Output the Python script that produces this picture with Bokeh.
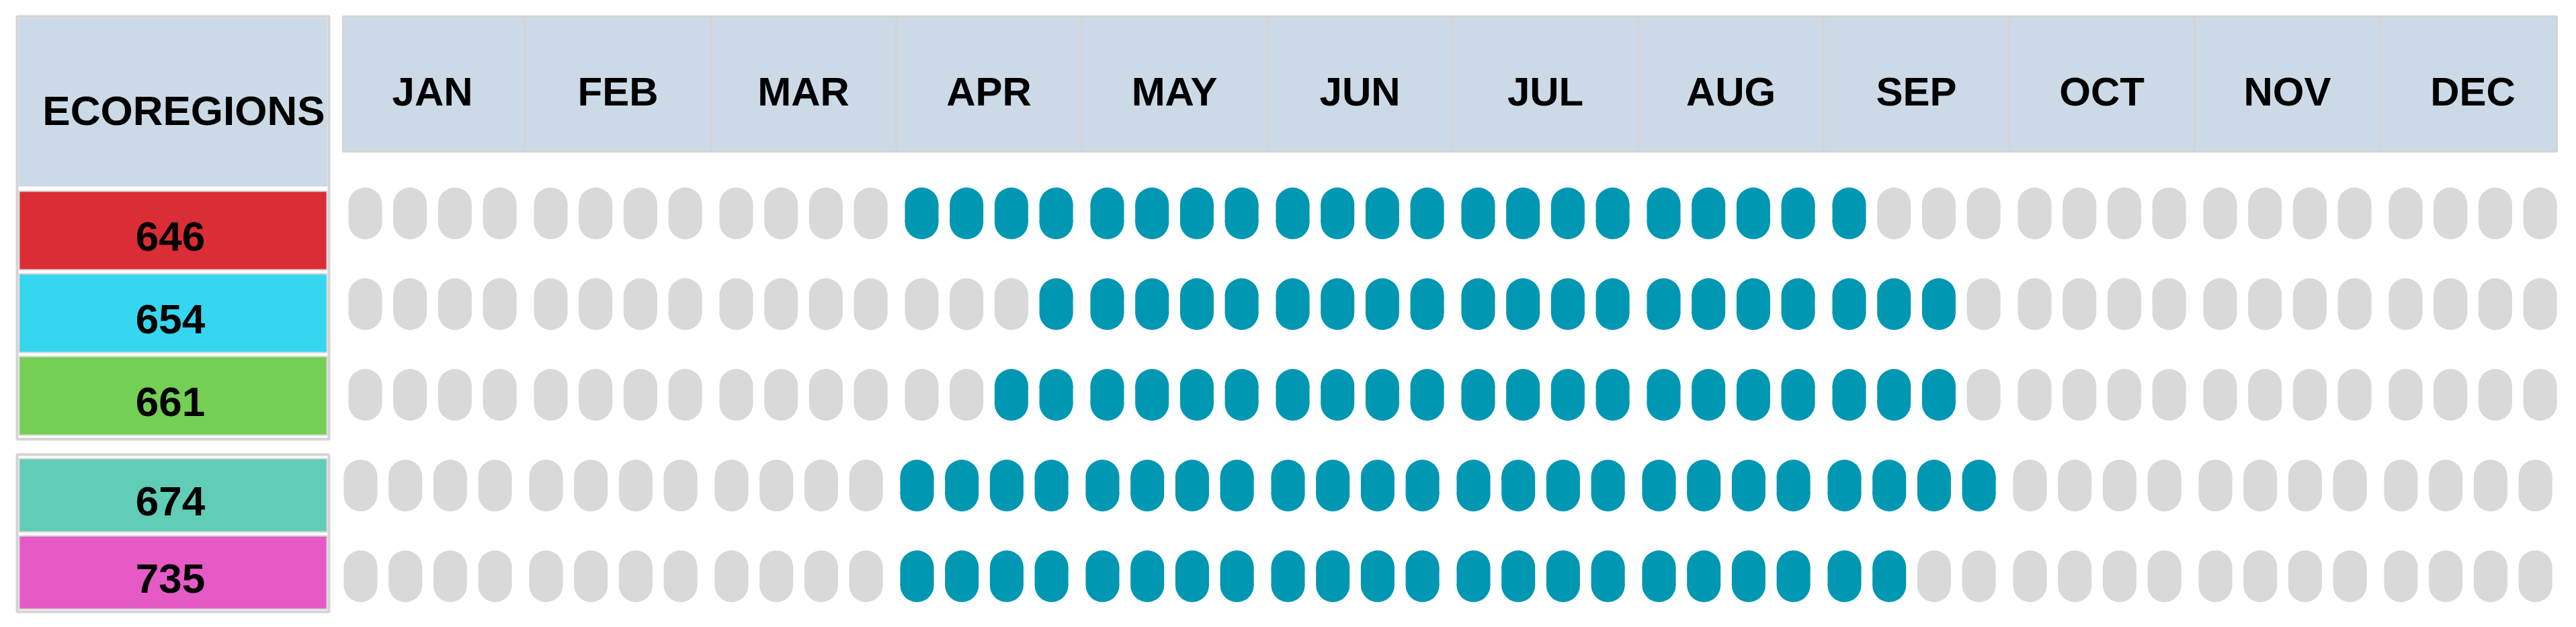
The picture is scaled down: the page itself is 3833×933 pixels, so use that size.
from bokeh.plotting import figure
from bokeh.models import Range1d, ColumnDataSource
from bokeh.embed import file_html
from bokeh.resources import INLINE
from bokeh.core.properties import value

# ---------------- data ----------------
MONTHS = ["JAN", "FEB", "MAR", "APR", "MAY", "JUN",
          "JUL", "AUG", "SEP", "OCT", "NOV", "DEC"]
WEEKS_PER_MONTH = 4
ECOREGIONS = ["646", "654", "661", "674", "735"]
REGION_COLORS = ["#DA2D35", "#35D6EF", "#74D054", "#62CDB6", "#E65AC6"]
REGION_GROUP = [0, 0, 0, 1, 1]

#            JAN        FEB        MAR        APR        MAY        JUN        JUL        AUG        SEP        OCT        NOV        DEC
ACTIVE_646 = [0,0,0,0,  0,0,0,0,  0,0,0,0,  1,1,1,1,  1,1,1,1,  1,1,1,1,  1,1,1,1,  1,1,1,1,  1,0,0,0,  0,0,0,0,  0,0,0,0,  0,0,0,0]
ACTIVE_654 = [0,0,0,0,  0,0,0,0,  0,0,0,0,  0,0,0,1,  1,1,1,1,  1,1,1,1,  1,1,1,1,  1,1,1,1,  1,1,1,0,  0,0,0,0,  0,0,0,0,  0,0,0,0]
ACTIVE_661 = [0,0,0,0,  0,0,0,0,  0,0,0,0,  0,0,1,1,  1,1,1,1,  1,1,1,1,  1,1,1,1,  1,1,1,1,  1,1,1,0,  0,0,0,0,  0,0,0,0,  0,0,0,0]
ACTIVE_674 = [0,0,0,0,  0,0,0,0,  0,0,0,0,  1,1,1,1,  1,1,1,1,  1,1,1,1,  1,1,1,1,  1,1,1,1,  1,1,1,1,  0,0,0,0,  0,0,0,0,  0,0,0,0]
ACTIVE_735 = [0,0,0,0,  0,0,0,0,  0,0,0,0,  1,1,1,1,  1,1,1,1,  1,1,1,1,  1,1,1,1,  1,1,1,1,  1,1,0,0,  0,0,0,0,  0,0,0,0,  0,0,0,0]
ACTIVITY = [ACTIVE_646, ACTIVE_654, ACTIVE_661, ACTIVE_674, ACTIVE_735]

# ---------------- style / layout ----------------
ON_COLOR = "#0097B2"
OFF_COLOR = "#D9D9D9"
HEAD_FILL = "#CBDAE6"
FRAME = "#D4D4D4"
FONT = value("Liberation Sans")

W, H = 3825, 925
PILL_X0, WEEK_PITCH, MONTH_PITCH = 543, 66.7, 276
ROW_Y0, ROW_PITCH = 317, 135
GROUP_XSHIFT = [0, -7]
PILL_W, PILL_H = 50, 77
HEAD_L, HEAD_R, HEAD_T, HEAD_B = 510, 3804, 24, 225
LBL_L, LBL_R = 25, 489
GROUP_BOX = [dict(top=284, pitch=123, h=117, frame_top=24, frame_bot=653),
             dict(top=682, pitch=115, h=109, frame_top=676, frame_bot=910)]

p = figure(width=W, height=H, x_range=Range1d(0, W), y_range=Range1d(H, 0),
           output_backend="svg", toolbar_location=None, min_border=0)
p.axis.visible = False
p.grid.visible = False
p.outline_line_color = None
p.background_fill_color = "white"
p.border_fill_color = "white"

# ---- month header ----
centers = [PILL_X0 + m * MONTH_PITCH + 1.5 * WEEK_PITCH for m in range(len(MONTHS))]
mids = [(PILL_X0 + m * MONTH_PITCH + 3 * WEEK_PITCH + PILL_X0 + (m + 1) * MONTH_PITCH) / 2
        for m in range(len(MONTHS) - 1)]
lefts = [HEAD_L] + mids
rights = mids + [HEAD_R]
p.quad(left=lefts, right=rights, top=[HEAD_T] * 12, bottom=[HEAD_B] * 12,
       fill_color=HEAD_FILL, line_color=FRAME, line_width=3)
p.text(x=centers, y=[136] * 12, text=MONTHS, text_font=FONT, text_font_style="bold",
       text_font_size="60px", text_align="center", text_baseline="middle", text_color="black")

# ---- left label column ----
for g, box in enumerate(GROUP_BOX):
    p.quad(left=[LBL_L], right=[LBL_R], top=[box["frame_top"]], bottom=[box["frame_bot"]],
           fill_color="white", line_color=FRAME, line_width=4)
p.quad(left=[LBL_L + 2], right=[LBL_R - 2], top=[HEAD_T + 2], bottom=[277],
       fill_color=HEAD_FILL, line_color=None)
p.text(x=[(LBL_L + LBL_R) / 2 + 16], y=[164], text=["ECOREGIONS"], text_font=FONT,
       text_font_style="bold", text_font_size="62px", text_align="center",
       text_baseline="middle", text_color="black")

tops, bots, lx, ly = [], [], [], []
count = [0, 0]
for r, grp in enumerate(REGION_GROUP):
    box = GROUP_BOX[grp]
    t = box["top"] + count[grp] * box["pitch"]
    count[grp] += 1
    tops.append(t)
    bots.append(t + box["h"])
    ly.append(t + box["h"] / 2 + 9)
    lx.append((LBL_L + LBL_R) / 2 - 4)
p.quad(left=[LBL_L + 3] * 5, right=[LBL_R - 3] * 5, top=tops, bottom=bots,
       fill_color=REGION_COLORS, line_color="#D8D8D8", line_width=2)
p.text(x=lx, y=ly, text=ECOREGIONS, text_font=FONT, text_font_style="bold",
       text_font_size="62px", text_align="center", text_baseline="middle", text_color="black")

# ---- pills ----
xs, ys, cols = [], [], []
for r, acts in enumerate(ACTIVITY):
    shift = GROUP_XSHIFT[REGION_GROUP[r]]
    for k, a in enumerate(acts):
        m, w = divmod(k, WEEKS_PER_MONTH)
        xs.append(PILL_X0 + m * MONTH_PITCH + w * WEEK_PITCH + shift)
        ys.append(ROW_Y0 + r * ROW_PITCH)
        cols.append(ON_COLOR if a else OFF_COLOR)
src = ColumnDataSource(dict(x=xs, y=ys, c=cols,
                            yt=[y - (PILL_H - PILL_W) / 2 for y in ys],
                            yb=[y + (PILL_H - PILL_W) / 2 for y in ys]))
p.rect(x="x", y="y", width=PILL_W, height=PILL_H - PILL_W, source=src,
       fill_color="c", line_color=None)
p.circle(x="x", y="yt", radius=PILL_W / 2, source=src, fill_color="c", line_color=None)
p.circle(x="x", y="yb", radius=PILL_W / 2, source=src, fill_color="c", line_color=None)

open("out.html", "w").write(file_html(p, INLINE))
